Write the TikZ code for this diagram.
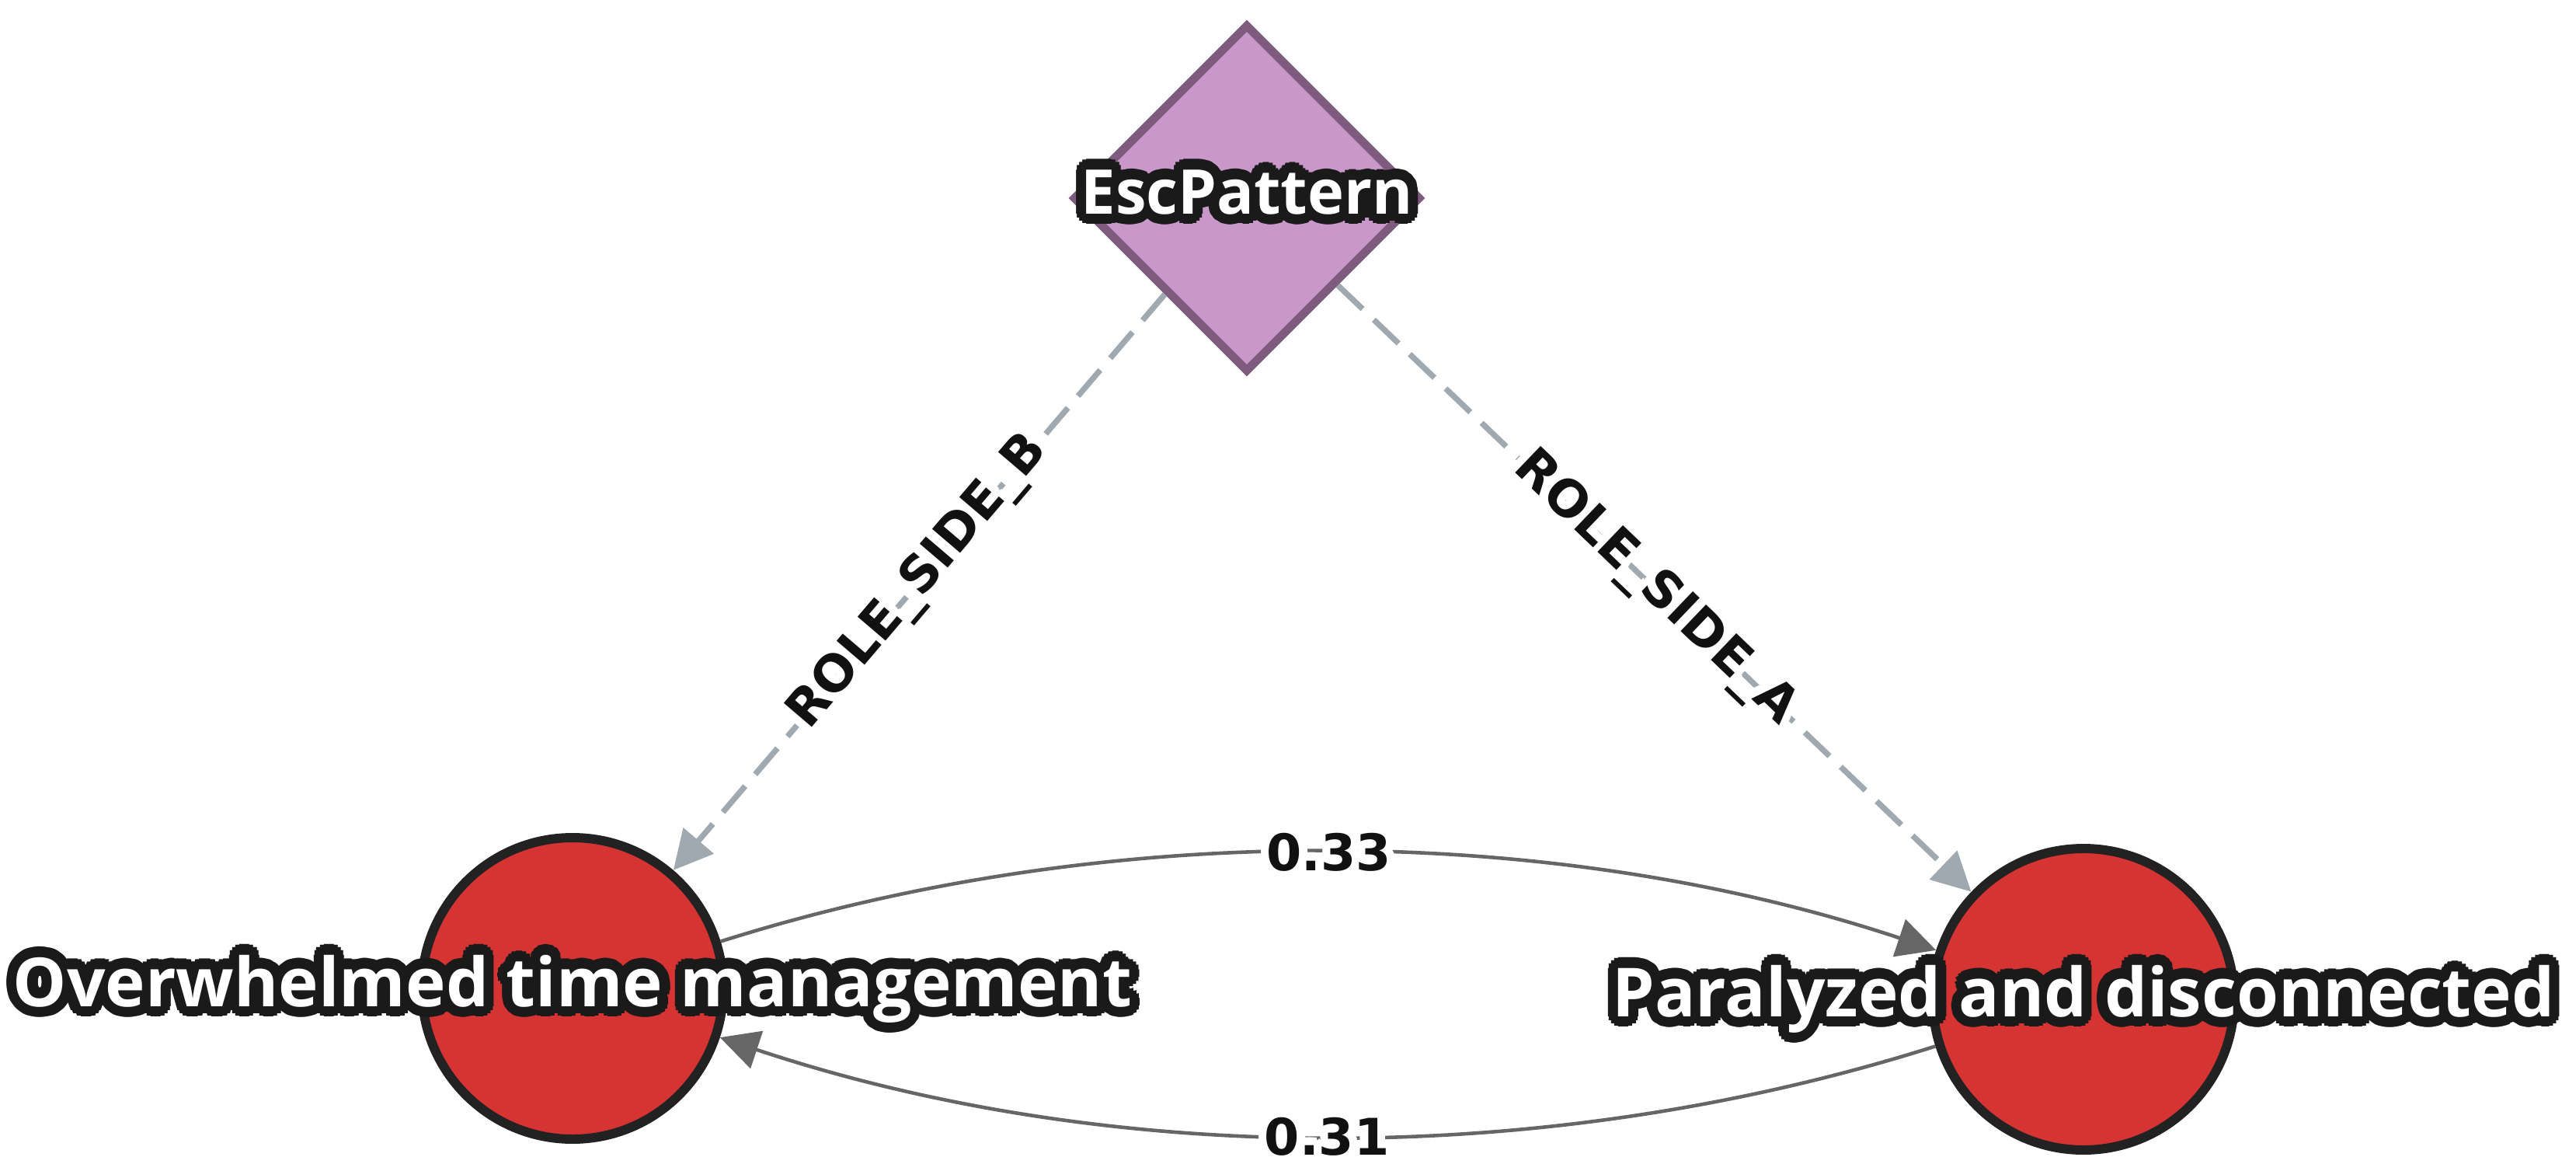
\documentclass[tikz,border=0pt]{standalone}
\usepackage{fontspec}
\usepackage{tikz}
\usetikzlibrary{arrows.meta,shapes.geometric}
\newfontfamily\nodefont{Open Sans}
\newfontfamily\edgefont{DejaVu Sans}
\definecolor{lilac}{RGB}{201, 151, 202}
\definecolor{plum}{RGB}{127, 90, 127}
\definecolor{crimson}{RGB}{214, 51, 51}
\definecolor{charcoal}{RGB}{34, 34, 34}
\definecolor{slate}{RGB}{160, 168, 176}
\definecolor{ash}{RGB}{102, 102, 102}
\definecolor{ink}{RGB}{17, 17, 17}
\definecolor{soot}{RGB}{26, 26, 26}
% outlined text: copies of the box round the glyphs, then the box itself
\newsavebox{\halobox}
\newcommand{\halo}[3]{%
  \setbox\halobox=\hbox{#3}%
  \foreach \hr in {1,0.5}{%
    \foreach \ha in {0,22.5,...,337.5}{%
      \pgfmathsetlengthmacro{\hx}{\hr*#2*cos(\ha)}%
      \pgfmathsetlengthmacro{\hy}{\hr*#2*sin(\ha)}%
      \rlap{\hspace*{\hx}\raisebox{\hy}{\textcolor{#1}{\usebox{\halobox}}}}%
    }%
  }%
  \usebox{\halobox}}

\begin{document}
\begin{tikzpicture}[
    escshape/.style={diamond, draw=plum, fill=lilac, line width=3.1pt,
        minimum width=4.48cm, minimum height=4.48cm, inner sep=0pt},
    statecircle/.style={circle, draw=charcoal, fill=crimson, line width=3.4pt,
        minimum size=3.88cm, inner sep=0pt},
    nodetext/.style={text=white, anchor=base, inner sep=0pt,
        font=\nodefont\bfseries\fontsize{24.8pt}{29pt}\selectfont},
    roleedge/.style={draw=slate, line width=2.1pt, dash pattern=on 0.44cm off 0.2cm,
        -{Triangle[length=0.5cm, width=0.5cm]}},
    weightedge/.style={draw=ash, line width=1.3pt,
        -{Triangle[length=0.5cm, width=0.5cm]}},
    edgetext/.style={text=ink, inner sep=0pt,
        font=\edgefont\bfseries\fontsize{18.5pt}{22pt}\selectfont}
]
\useasboundingbox (0,0) rectangle (33.16,-15.07);

% shapes
\node[escshape] (esc) at (16.05,-2.55) {};
\node[statecircle] (over) at (7.37,-12.72) {};
\node[statecircle] (para) at (26.82,-12.86) {};

% edges
\draw[roleedge] (esc) -- node[edgetext, sloped] (roleb) {\halo{white}{3pt}{ROLE\_SIDE\_B}} (over);
\draw[roleedge] (esc) -- node[edgetext, sloped] (rolea) {\halo{white}{3pt}{ROLE\_SIDE\_A}} (para);
\draw[weightedge] (over) to[bend left=18, looseness=0.85] node[edgetext] (wone) {\halo{white}{3pt}{0.33}} (para);
\draw[weightedge] (para) to[bend left=18, looseness=0.86] node[edgetext] (wtwo) {\halo{white}{3pt}{0.31}} (over);

% labels
\node[nodetext, font=\nodefont\bfseries\fontsize{22.6pt}{27pt}\selectfont] (esclabel)
    at ([yshift=-0.2cm]esc.center) {\halo{soot}{3.8pt}{EscPattern}};
\node[nodetext] (overlabel) at ([yshift=-0.23cm]over.center) {\halo{soot}{3.8pt}{Overwhelmed time management}};
\node[nodetext] (paralabel) at ([yshift=-0.22cm]para.center) {\halo{soot}{3.8pt}{Paralyzed and disconnected}};
\end{tikzpicture}
\end{document}
